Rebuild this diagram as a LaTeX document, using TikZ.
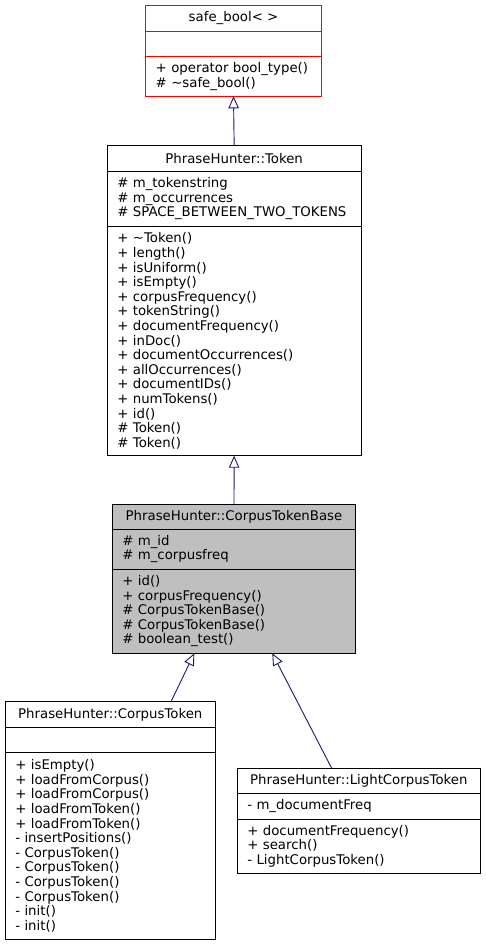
\documentclass[tikz,border=0pt]{standalone}
\usepackage{fontspec}
\setmainfont{DejaVu Sans}
\usetikzlibrary{positioning,arrows.meta}
\definecolor{edgeblue}{HTML}{191970}
\definecolor{basegrey}{HTML}{BFBFBF}
\tikzset{
  classhead/.style={draw, line width=1pt, outer sep=0pt, inner sep=0pt, align=center,
    font=\fontsize{13.3}{14.6}\selectfont},
  classpart/.style={draw, line width=1pt, outer sep=0pt, inner xsep=10pt, inner ysep=0pt,
    align=left, font=\fontsize{13.3}{14.6}\selectfont},
  inherit/.style={draw=edgeblue, line width=0.9pt, -{Triangle[open, length=12pt, width=10.5pt]}}
}
\begin{document}
\begin{tikzpicture}[x=1pt, y=-1pt]
        \useasboundingbox (0,0) rectangle (485,944);
        % safe_bool< >
        \node[classhead, draw=red, anchor=north west, minimum width=175.6pt, minimum height=26.4pt] (safebool) at (145.7,5.3) {safe\_bool< >};
        \node[classpart, draw=red, below=0pt of safebool, text width=155.6pt, minimum height=25pt] (safebool-attr) {};
        \node[classpart, draw=red, below=0pt of safebool-attr, text width=155.6pt, minimum height=39.6pt] (safebool-ops) {+ operator bool\_type()\\\# \textasciitilde safe\_bool()};
        % PhraseHunter::Token
        \node[classhead, anchor=north west, minimum width=253.7pt, minimum height=26.4pt] (token) at (107.3,145.3) {PhraseHunter::Token};
        \node[classpart, below=0pt of token, text width=233.7pt, minimum height=54.3pt] (token-attr) {\# m\_tokenstring\\\# m\_occurrences\\\# SPACE\_BETWEEN\_TWO\_TOKENS};
        \node[classpart, below=0pt of token-attr, text width=233.7pt, minimum height=229.7pt] (token-ops) {+ \textasciitilde Token()\\+ length()\\+ isUniform()\\+ isEmpty()\\+ corpusFrequency()\\+ tokenString()\\+ documentFrequency()\\+ inDoc()\\+ documentOccurrences()\\+ allOccurrences()\\+ documentIDs()\\+ numTokens()\\+ id()\\\# Token()\\\# Token()};
        % PhraseHunter::CorpusTokenBase
        \node[classhead, fill=basegrey, anchor=north west, minimum width=243.4pt, minimum height=25pt] (ctbase) at (112.3,504.3) {PhraseHunter::CorpusTokenBase};
        \node[classpart, fill=basegrey, below=0pt of ctbase, text width=223.4pt, minimum height=39.7pt] (ctbase-attr) {\# m\_id\\\# m\_corpusfreq};
        \node[classpart, fill=basegrey, below=0pt of ctbase-attr, text width=223.4pt, minimum height=84.3pt] (ctbase-ops) {+ id()\\+ corpusFrequency()\\\# CorpusTokenBase()\\\# CorpusTokenBase()\\\# boolean\_test()};
        % PhraseHunter::CorpusToken
        \node[classhead, anchor=north west, minimum width=210pt, minimum height=26pt] (ctoken) at (5.3,701.7) {PhraseHunter::CorpusToken};
        \node[classpart, below=0pt of ctoken, text width=190pt, minimum height=24.6pt] (ctoken-attr) {};
        \node[classpart, below=0pt of ctoken-attr, text width=190pt, minimum height=187pt] (ctoken-ops) {+ isEmpty()\\+ loadFromCorpus()\\+ loadFromCorpus()\\+ loadFromToken()\\+ loadFromToken()\\- insertPositions()\\- CorpusToken()\\- CorpusToken()\\- CorpusToken()\\- CorpusToken()\\- init()\\- init()};
        % PhraseHunter::LightCorpusToken
        \node[classhead, anchor=north west, minimum width=243pt, minimum height=25.4pt] (lctoken) at (237.3,768.3) {PhraseHunter::LightCorpusToken};
        \node[classpart, below=0pt of lctoken, text width=223pt, minimum height=25.6pt] (lctoken-attr) {- m\_documentFreq};
        \node[classpart, below=0pt of lctoken-attr, text width=223pt, minimum height=53.7pt] (lctoken-ops) {+ documentFrequency()\\+ search()\\- LightCorpusToken()};
        % inheritance
        \draw[inherit] (token.north) -- (safebool-ops.south);
        \draw[inherit] (ctbase.north) -- (token-ops.south);
        \draw[inherit] ([xshift=60.7pt]ctoken.north) -- ([xshift=-39.7pt]ctbase-ops.south);
        \draw[inherit] ([xshift=-27.1pt]lctoken.north) -- ([xshift=38.3pt]ctbase-ops.south);
\end{tikzpicture}
\end{document}
